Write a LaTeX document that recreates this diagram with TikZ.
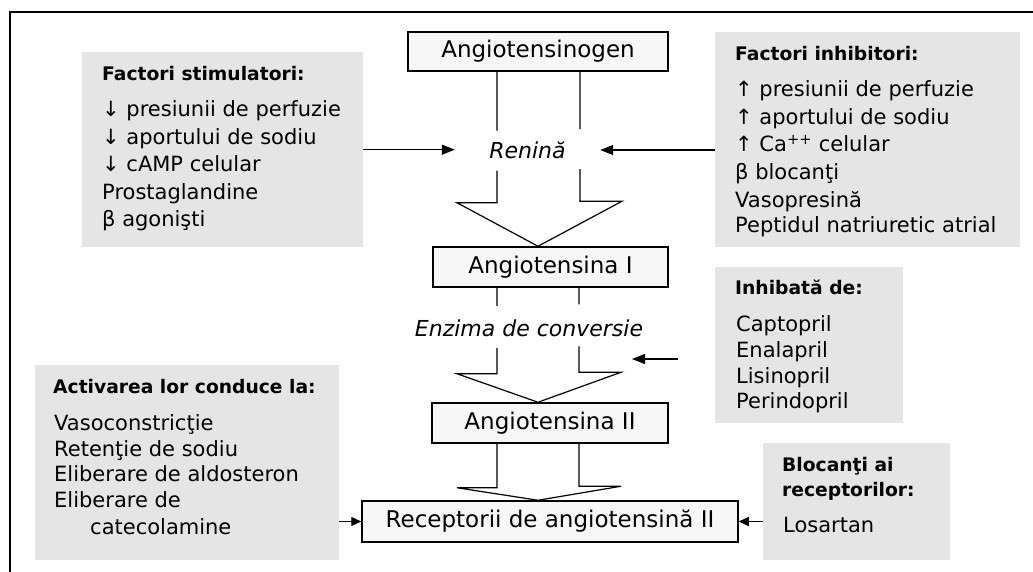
\documentclass[tikz,border=0pt]{standalone}
\usepackage{fontspec}
\setmainfont{DejaVu Sans}
\usetikzlibrary{arrows.meta,calc}
\definecolor{boxgray}{RGB}{229,229,229}
\definecolor{boxwhite}{RGB}{247,247,247}
\begin{document}
\begin{tikzpicture}[x=1pt,y=-1pt,
  frame/.style={line width=1.5pt},
  graybox/.style={fill=boxgray, draw=none, inner sep=0pt, anchor=north west},
  mainbox/.style={draw, line width=1.5pt, fill=boxwhite, inner sep=0pt, font=\fontsize{23}{27}\selectfont},
  lbl/.style={font=\fontsize{22}{26}\selectfont\itshape, inner sep=0pt},
  item/.style={font=\fontsize{21}{25}\selectfont, inner sep=0pt, anchor=west, text height=11.5pt, text depth=0pt},
  ttl/.style={font=\fontsize{18.7}{22}\selectfont\bfseries, inner sep=0pt, anchor=west, text height=13.6pt, text depth=0pt},
  hollow/.style={line width=1.2pt, line join=miter},
  arr/.style={line width=1.3pt, -{Triangle[length=13pt,width=10pt]}},
  sarr/.style={line width=1.3pt, -{Triangle[length=10pt,width=9pt]}},
]
\useasboundingbox (0,0) rectangle (1033,572);
\fill[white] (0,0) rectangle (1033,572);
\draw[frame] (10,572) -- (10,12) -- (1033,12);

% central chain
\node[mainbox, minimum width=260pt, minimum height=39pt] (ag) at (538,51.5) {Angiotensinogen};
\node[mainbox, minimum width=235pt, minimum height=40pt] (a1) at (550.5,267) {Angiotensina I};
\node[mainbox, minimum width=236pt, minimum height=40pt] (a2) at (550,423) {Angiotensina II};
\node[mainbox, minimum width=376pt, minimum height=41pt] (rec) at (550,521.5) {Receptorii de angiotensină II};

\node[lbl, minimum width=145pt] (ren) at (527.5,150) {Renină};
\node[lbl] (enz) at (529,328) {Enzima de conversie};

% hollow arrows
\coordinate (t1) at (ag.south);
\coordinate (b1) at (ag.south |- a1.north);
\draw[hollow] (t1) ++(-41,0) -- ++(0,59) ++(0,40) -- ++(0,32) -- ++(-40,0) -- (b1) -- ++(84,-45) -- ++(-42,0) -- ++(0,-32) ++(0,-40) -- ++(0,-59);

\coordinate (t2) at (t1 |- a1.south);
\coordinate (b2) at (t1 |- a2.north);
\draw[hollow] (t2) ++(-41,0) -- ++(0,18) ++(0,42) -- ++(0,26) -- ++(-40,0) -- (b2) -- ++(83,-30) -- ++(-42,0) -- ++(0,-26) ++(0,-42) -- ++(0,-18);

\coordinate (t3) at (t1 |- a2.south);
\coordinate (b3) at (t1 |- rec.north);
\draw[hollow] (t3) ++(-41,0) -- ++(0,44) -- ++(-40,0) -- (b3) -- ++(83,-14) -- ++(-42,0) -- ++(0,-44);

% gray boxes
\node[graybox, minimum width=281pt, minimum height=195pt] (stim) at (82,52) {};
\node[graybox, minimum width=305pt, minimum height=215pt] (inhib) at (715,32) {};
\node[graybox, minimum width=188pt, minimum height=156pt] (inhd) at (715,267) {};
\node[graybox, minimum width=187pt, minimum height=117pt] (bloc) at (763,443) {};
\node[graybox, minimum width=304pt, minimum height=195pt] (act) at (35,365) {};

% stimulatori
\node[ttl] (st0) at (102,74) {Factori stimulatori:};
\node[item] (st1) at (102,111) {↓ presiunii de perfuzie};
\node[item] (st2) at (102,139) {↓ aportului de sodiu};
\node[item] (st3) at (102,166) {↓ cAMP celular};
\node[item] (st4) at (102,194) {Prostaglandine};
\node[item] (st5) at (102,221) {β agonişti};

% inhibitori
\node[ttl] (in0) at (735,54) {Factori inhibitori:};
\node[item] (in1) at (735,91) {↑ presiunii de perfuzie};
\node[item] (in2) at (735,119) {↑ aportului de sodiu};
\node[item] (in3) at (735,146) {↑ Ca\textsuperscript{++} celular};
\node[item] (in4) at (735,174) {β blocanţi};
\node[item] (in5) at (735,202) {Vasopresină};
\node[item] (in6) at (735,227) {Peptidul natriuretic atrial};

% inhibata de
\node[ttl] (ih0) at (735,288) {Inhibată de:};
\node[item] (ih1) at (736,326) {Captopril};
\node[item] (ih2) at (736,352) {Enalapril};
\node[item] (ih3) at (736,378) {Lisinopril};
\node[item] (ih4) at (736,403) {Perindopril};

% blocanti
\node[ttl] (bl0) at (782,465) {Blocanţi ai};
\node[ttl] (bl1) at (782,490) {receptorilor:};
\node[item] (bl2) at (783,527) {Losartan};

% activarea
\node[ttl] (ac0) at (53,387) {Activarea lor conduce la:};
\node[item] (ac1) at (54,425) {Vasoconstricţie};
\node[item] (ac2) at (54,451) {Retenţie de sodiu};
\node[item] (ac3) at (54,476) {Eliberare de aldosteron};
\node[item] (ac4) at (54,502) {Eliberare de};
\node[item] (ac5) at (90,529) {catecolamine};

% arrows
\draw[arr] (stim.east) -- (stim.east -| ren.west);
\draw[arr] (inhib.west |- ren.east) -- (ren.east);
\coordinate (iea) at (678,359);
\coordinate (ieb) at (632,359);
\draw[arr] (iea) -- (ieb);
\draw[sarr] (act.east |- rec.west) -- (rec.west);
\draw[sarr] (bloc.west |- rec.east) -- (rec.east);
\end{tikzpicture}
\end{document}
